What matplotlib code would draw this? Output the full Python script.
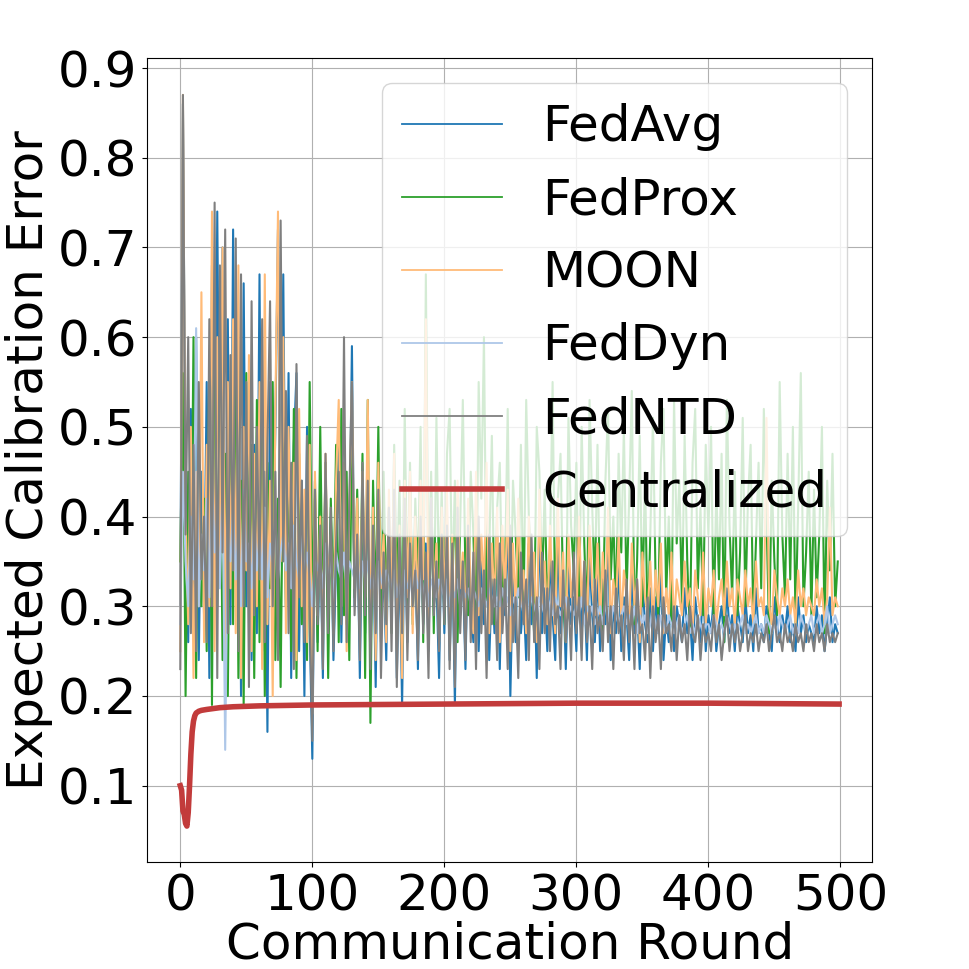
import numpy as np
import matplotlib
matplotlib.use("Agg")
import matplotlib.pyplot as plt

rounds = np.arange(0, 500, 2)

fedavg = [
    0.30, 0.86, 0.42, 0.26, 0.52, 0.31, 0.60, 0.24, 0.45, 0.29,
    0.55, 0.22, 0.68, 0.33, 0.74, 0.38, 0.70, 0.21, 0.62, 0.28,
    0.72, 0.35, 0.58, 0.20, 0.66, 0.30, 0.52, 0.24, 0.48, 0.27,
    0.67, 0.25, 0.45, 0.16, 0.55, 0.32, 0.50, 0.72, 0.40, 0.67,
    0.30, 0.56, 0.22, 0.48, 0.56, 0.25, 0.44, 0.20, 0.50, 0.28,
    0.13, 0.42, 0.26, 0.38, 0.22, 0.46, 0.30, 0.40, 0.24, 0.35,
    0.48, 0.26, 0.44, 0.28, 0.36, 0.59, 0.30, 0.40, 0.22, 0.44,
    0.27, 0.46, 0.25, 0.38, 0.21, 0.42, 0.28, 0.34, 0.24, 0.40,
    0.30, 0.45, 0.22, 0.36, 0.19, 0.40, 0.26, 0.44, 0.29, 0.35,
    0.23, 0.41, 0.28, 0.37, 0.25, 0.43, 0.30, 0.33, 0.22, 0.39,
    0.27, 0.40, 0.24, 0.36, 0.19, 0.42, 0.29, 0.34, 0.23, 0.38,
    0.30, 0.26, 0.41, 0.25, 0.35, 0.28, 0.44, 0.24, 0.33, 0.27,
    0.38, 0.23, 0.36, 0.29, 0.40, 0.20, 0.34, 0.26, 0.39, 0.27,
    0.31, 0.24, 0.37, 0.28, 0.34, 0.22, 0.40, 0.27, 0.32, 0.25,
    0.36, 0.29, 0.24, 0.38, 0.27, 0.33, 0.23, 0.35, 0.28, 0.31,
    0.25, 0.37, 0.27, 0.32, 0.24, 0.36, 0.29, 0.26, 0.34, 0.25,
    0.33, 0.28, 0.38, 0.24, 0.30, 0.27, 0.35, 0.25, 0.31, 0.29,
    0.24, 0.34, 0.27, 0.30, 0.23, 0.33, 0.28, 0.26, 0.32, 0.25,
    0.31, 0.27, 0.34, 0.24, 0.29, 0.26, 0.33, 0.25, 0.30, 0.28,
    0.26, 0.32, 0.27, 0.29, 0.24, 0.31, 0.28, 0.26, 0.33, 0.25,
    0.29, 0.27, 0.31, 0.25, 0.28, 0.30, 0.26, 0.32, 0.27, 0.29,
    0.25, 0.30, 0.28, 0.26, 0.31, 0.27, 0.29, 0.25, 0.32, 0.27,
    0.28, 0.26, 0.30, 0.27, 0.25, 0.31, 0.28, 0.26, 0.29, 0.27,
    0.30, 0.26, 0.28, 0.25, 0.31, 0.27, 0.29, 0.26, 0.28, 0.27,
    0.26, 0.30, 0.27, 0.29, 0.25, 0.28, 0.31, 0.26, 0.28, 0.27,
]

fedprox = [
    0.35, 0.56, 0.20, 0.45, 0.28, 0.60, 0.22, 0.50, 0.30, 0.42,
    0.25, 0.58, 0.19, 0.64, 0.30, 0.55, 0.24, 0.47, 0.20, 0.52,
    0.28, 0.60, 0.22, 0.44, 0.19, 0.56, 0.30, 0.48, 0.22, 0.53,
    0.26, 0.50, 0.20, 0.46, 0.32, 0.55, 0.24, 0.42, 0.21, 0.50,
    0.30, 0.45, 0.25, 0.52, 0.22, 0.47, 0.28, 0.40, 0.24, 0.55,
    0.30, 0.44, 0.25, 0.50, 0.28, 0.46, 0.22, 0.42, 0.30, 0.48,
    0.26, 0.52, 0.29, 0.45, 0.24, 0.50, 0.31, 0.43, 0.27, 0.47,
    0.22, 0.53, 0.17, 0.44, 0.29, 0.50, 0.26, 0.45, 0.30, 0.41,
    0.27, 0.48, 0.31, 0.44, 0.25, 0.52, 0.30, 0.46, 0.28, 0.42,
    0.33, 0.50, 0.26, 0.67, 0.30, 0.45, 0.27, 0.51, 0.32, 0.43,
    0.28, 0.47, 0.52, 0.31, 0.44, 0.26, 0.39, 0.53, 0.33, 0.29,
    0.45, 0.38, 0.27, 0.55, 0.42, 0.60, 0.30, 0.36, 0.49, 0.28,
    0.41, 0.46, 0.30, 0.34, 0.52, 0.27, 0.44, 0.38, 0.31, 0.48,
    0.29, 0.53, 0.40, 0.33, 0.27, 0.50, 0.45, 0.32, 0.43, 0.30,
    0.36, 0.55, 0.28, 0.42, 0.47, 0.31, 0.26, 0.51, 0.39, 0.34,
    0.46, 0.29, 0.50, 0.37, 0.28, 0.53, 0.41, 0.32, 0.48, 0.30,
    0.27, 0.44, 0.52, 0.33, 0.40, 0.29, 0.47, 0.36, 0.50, 0.31,
    0.42, 0.54, 0.28, 0.35, 0.49, 0.30, 0.45, 0.27, 0.38, 0.51,
    0.33, 0.29, 0.46, 0.52, 0.31, 0.40, 0.28, 0.53, 0.37, 0.44,
    0.30, 0.49, 0.35, 0.27, 0.46, 0.52, 0.32, 0.41, 0.29, 0.48,
    0.38, 0.50, 0.28, 0.43, 0.33, 0.47, 0.26, 0.53, 0.39, 0.31,
    0.45, 0.29, 0.36, 0.51, 0.30, 0.42, 0.48, 0.28, 0.37, 0.46,
    0.32, 0.52, 0.40, 0.27, 0.44, 0.35, 0.29, 0.55, 0.38, 0.31,
    0.47, 0.33, 0.50, 0.28, 0.41, 0.56, 0.30, 0.36, 0.45, 0.29,
    0.43, 0.31, 0.38, 0.50, 0.27, 0.44, 0.34, 0.47, 0.30, 0.35,
]

moon = [
    0.25, 0.87, 0.40, 0.28, 0.50, 0.22, 0.45, 0.30, 0.65, 0.26,
    0.48, 0.30, 0.74, 0.25, 0.60, 0.35, 0.70, 0.24, 0.55, 0.32,
    0.62, 0.27, 0.68, 0.22, 0.50, 0.34, 0.58, 0.25, 0.47, 0.30,
    0.55, 0.23, 0.67, 0.28, 0.44, 0.20, 0.52, 0.74, 0.35, 0.60,
    0.27, 0.50, 0.33, 0.46, 0.24, 0.52, 0.30, 0.43, 0.26, 0.48,
    0.18, 0.45, 0.29, 0.40, 0.25, 0.47, 0.31, 0.38, 0.27, 0.44,
    0.53, 0.30, 0.46, 0.25, 0.40, 0.55, 0.32, 0.42, 0.28, 0.45,
    0.31, 0.53, 0.27, 0.41, 0.24, 0.46, 0.32, 0.38, 0.26, 0.43,
    0.30, 0.47, 0.25, 0.39, 0.22, 0.44, 0.31, 0.45, 0.27, 0.40,
    0.29, 0.44, 0.33, 0.62, 0.28, 0.42, 0.31, 0.37, 0.26, 0.41,
    0.30, 0.43, 0.27, 0.38, 0.24, 0.44, 0.32, 0.36, 0.28, 0.42,
    0.31, 0.27, 0.45, 0.29, 0.38, 0.32, 0.46, 0.27, 0.37, 0.30,
    0.41, 0.26, 0.39, 0.31, 0.43, 0.25, 0.37, 0.29, 0.42, 0.30,
    0.34, 0.27, 0.40, 0.31, 0.36, 0.26, 0.43, 0.30, 0.35, 0.28,
    0.39, 0.31, 0.27, 0.42, 0.30, 0.36, 0.26, 0.38, 0.31, 0.34,
    0.28, 0.40, 0.30, 0.35, 0.27, 0.39, 0.32, 0.29, 0.37, 0.28,
    0.36, 0.30, 0.41, 0.27, 0.33, 0.30, 0.38, 0.28, 0.34, 0.31,
    0.27, 0.37, 0.30, 0.33, 0.26, 0.36, 0.31, 0.29, 0.35, 0.28,
    0.34, 0.30, 0.37, 0.27, 0.32, 0.29, 0.36, 0.28, 0.33, 0.31,
    0.29, 0.35, 0.30, 0.32, 0.27, 0.34, 0.31, 0.29, 0.36, 0.28,
    0.32, 0.30, 0.34, 0.28, 0.31, 0.33, 0.29, 0.35, 0.30, 0.32,
    0.28, 0.33, 0.31, 0.29, 0.34, 0.30, 0.32, 0.28, 0.35, 0.30,
    0.31, 0.29, 0.51, 0.30, 0.28, 0.34, 0.31, 0.29, 0.32, 0.30,
    0.33, 0.29, 0.31, 0.28, 0.34, 0.30, 0.32, 0.29, 0.31, 0.30,
    0.29, 0.33, 0.30, 0.32, 0.28, 0.31, 0.41, 0.29, 0.31, 0.30,
]

feddyn = [
    0.28, 0.45, 0.35, 0.30, 0.40, 0.33, 0.61, 0.30, 0.38, 0.34,
    0.42, 0.31, 0.45, 0.36, 0.40, 0.32, 0.44, 0.14, 0.38, 0.35,
    0.41, 0.33, 0.39, 0.30, 0.43, 0.35, 0.37, 0.32, 0.40, 0.34,
    0.38, 0.33, 0.41, 0.31, 0.37, 0.35, 0.40, 0.33, 0.36, 0.38,
    0.34, 0.37, 0.32, 0.39, 0.35, 0.33, 0.38, 0.34, 0.36, 0.33,
    0.30, 0.36, 0.34, 0.35, 0.32, 0.37, 0.33, 0.35, 0.31, 0.36,
    0.34, 0.33, 0.36, 0.32, 0.35, 0.34, 0.33, 0.36, 0.32, 0.35,
    0.33, 0.35, 0.32, 0.34, 0.31, 0.35, 0.33, 0.32, 0.34, 0.33,
    0.32, 0.34, 0.31, 0.33, 0.30, 0.34, 0.32, 0.33, 0.31, 0.34,
    0.32, 0.33, 0.31, 0.34, 0.30, 0.33, 0.32, 0.31, 0.33, 0.32,
    0.31, 0.33, 0.30, 0.32, 0.31, 0.33, 0.30, 0.32, 0.31, 0.32,
    0.30, 0.32, 0.31, 0.30, 0.32, 0.31, 0.30, 0.32, 0.31, 0.30,
    0.31, 0.30, 0.32, 0.30, 0.31, 0.29, 0.31, 0.30, 0.32, 0.30,
    0.30, 0.31, 0.29, 0.31, 0.30, 0.29, 0.31, 0.30, 0.29, 0.31,
    0.30, 0.29, 0.31, 0.30, 0.29, 0.30, 0.31, 0.29, 0.30, 0.29,
    0.30, 0.29, 0.31, 0.28, 0.30, 0.29, 0.30, 0.28, 0.29, 0.30,
    0.28, 0.30, 0.29, 0.28, 0.30, 0.29, 0.28, 0.29, 0.30, 0.28,
    0.29, 0.28, 0.30, 0.27, 0.29, 0.28, 0.29, 0.27, 0.28, 0.29,
    0.28, 0.27, 0.29, 0.28, 0.27, 0.29, 0.28, 0.27, 0.28, 0.29,
    0.27, 0.28, 0.29, 0.27, 0.28, 0.27, 0.29, 0.28, 0.27, 0.28,
    0.28, 0.27, 0.29, 0.28, 0.27, 0.28, 0.27, 0.29, 0.28, 0.27,
    0.28, 0.27, 0.28, 0.29, 0.27, 0.28, 0.27, 0.28, 0.29, 0.27,
    0.28, 0.27, 0.29, 0.28, 0.27, 0.28, 0.27, 0.29, 0.28, 0.27,
    0.28, 0.29, 0.27, 0.28, 0.27, 0.29, 0.28, 0.27, 0.28, 0.29,
    0.27, 0.28, 0.29, 0.27, 0.28, 0.30, 0.27, 0.28, 0.29, 0.28,
]

fedntd = [
    0.23, 0.87, 0.38, 0.60, 0.27, 0.48, 0.25, 0.55, 0.33, 0.40,
    0.26, 0.62, 0.30, 0.75, 0.22, 0.68, 0.36, 0.72, 0.27, 0.58,
    0.34, 0.71, 0.25, 0.67, 0.30, 0.55, 0.21, 0.64, 0.29, 0.50,
    0.33, 0.62, 0.26, 0.48, 0.64, 0.30, 0.45, 0.24, 0.73, 0.35,
    0.54, 0.27, 0.46, 0.23, 0.57, 0.31, 0.44, 0.26, 0.49, 0.30,
    0.15, 0.43, 0.28, 0.39, 0.23, 0.47, 0.27, 0.41, 0.25, 0.37,
    0.45, 0.28, 0.60, 0.26, 0.42, 0.55, 0.29, 0.38, 0.24, 0.46,
    0.29, 0.44, 0.23, 0.39, 0.27, 0.43, 0.22, 0.36, 0.28, 0.41,
    0.25, 0.43, 0.21, 0.38, 0.27, 0.42, 0.24, 0.37, 0.30, 0.34,
    0.24, 0.40, 0.27, 0.36, 0.22, 0.42, 0.29, 0.35, 0.25, 0.38,
    0.28, 0.39, 0.23, 0.37, 0.21, 0.41, 0.27, 0.35, 0.24, 0.39,
    0.26, 0.36, 0.23, 0.40, 0.27, 0.34, 0.22, 0.38, 0.28, 0.33,
    0.24, 0.37, 0.27, 0.33, 0.23, 0.39, 0.26, 0.31, 0.22, 0.36,
    0.28, 0.33, 0.24, 0.38, 0.26, 0.31, 0.23, 0.36, 0.27, 0.32,
    0.25, 0.35, 0.28, 0.30, 0.23, 0.34, 0.26, 0.31, 0.24, 0.36,
    0.27, 0.31, 0.24, 0.35, 0.26, 0.30, 0.23, 0.33, 0.27, 0.29,
    0.25, 0.34, 0.26, 0.30, 0.23, 0.32, 0.27, 0.29, 0.24, 0.33,
    0.26, 0.30, 0.23, 0.33, 0.27, 0.28, 0.24, 0.31, 0.22, 0.30,
    0.26, 0.29, 0.23, 0.31, 0.27, 0.28, 0.25, 0.30, 0.24, 0.29,
    0.26, 0.28, 0.24, 0.30, 0.27, 0.26, 0.29, 0.24, 0.28, 0.26,
    0.27, 0.25, 0.29, 0.26, 0.28, 0.24, 0.27, 0.29, 0.25, 0.28,
    0.26, 0.28, 0.25, 0.27, 0.29, 0.25, 0.27, 0.26, 0.28, 0.25,
    0.27, 0.26, 0.28, 0.25, 0.27, 0.29, 0.26, 0.27, 0.25, 0.28,
    0.26, 0.27, 0.25, 0.28, 0.26, 0.27, 0.25, 0.28, 0.26, 0.27,
    0.25, 0.28, 0.26, 0.27, 0.25, 0.28, 0.26, 0.27, 0.26, 0.27,
]

central_rounds = [0, 1, 2, 3, 4, 5, 6, 7, 8, 9, 10, 11, 12, 14, 16, 20,
                  30, 40, 60, 100, 200, 300, 400, 499]
centralized = [0.100, 0.095, 0.072, 0.068, 0.058, 0.055, 0.070, 0.100,
               0.135, 0.160, 0.172, 0.178, 0.181, 0.183, 0.184, 0.185,
               0.187, 0.188, 0.189, 0.190, 0.191, 0.192, 0.192, 0.191]

series = [
    ("FedAvg", fedavg, "#1f77b4"),
    ("FedProx", fedprox, "#2ca02c"),
    ("MOON", moon, "#ffbb78"),
    ("FedDyn", feddyn, "#aec7e8"),
    ("FedNTD", fedntd, "#7f7f7f"),
]

fig = plt.figure(figsize=(9.69, 9.69), dpi=100)
ax = fig.add_axes([0.152, 0.110, 0.748, 0.830])

for name, vals, col in series:
    ax.plot(rounds, vals, color=col, lw=1.5, label=name)
ax.plot(central_rounds, centralized, color="#c23b3b", lw=4, label="Centralized")

ax.set_xlim(-25, 524)
ax.set_ylim(0.0145, 0.911)
ax.set_xticks([0, 100, 200, 300, 400, 500])
ax.set_yticks([0.1, 0.2, 0.3, 0.4, 0.5, 0.6, 0.7, 0.8, 0.9])
ax.tick_params(labelsize=36)
ax.grid(True, color="#b0b0b0", lw=0.8)
ax.set_xlabel("Communication Round", fontsize=36, labelpad=0)
ax.set_ylabel("Expected Calibration Error", fontsize=36, labelpad=4)
leg = ax.legend(loc="upper right", fontsize=36)
for line in leg.get_lines():
    line.set_linewidth(1.3)
leg.get_lines()[-1].set_linewidth(4)

fig.savefig("out.png", dpi=100)
